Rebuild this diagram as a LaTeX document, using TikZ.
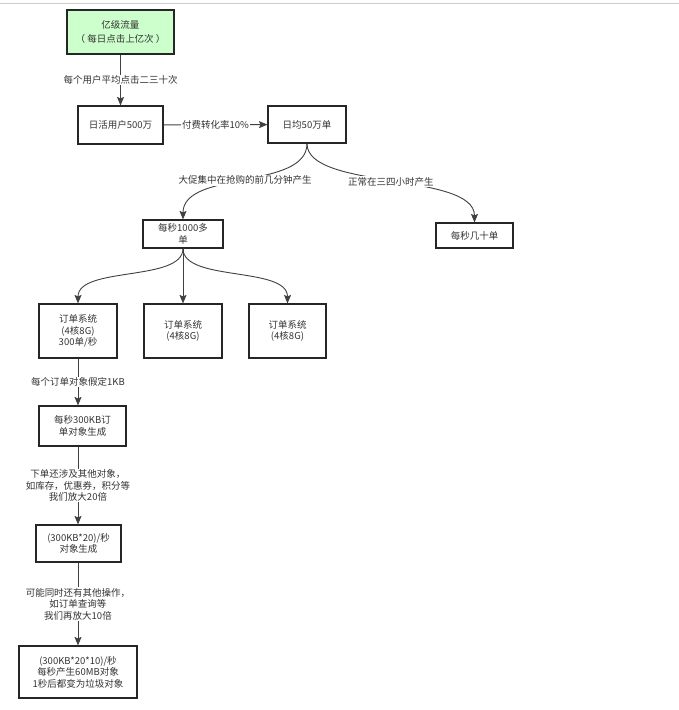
\documentclass[tikz,border=0pt]{standalone}
\usepackage{fontspec}
\setmainfont{Noto Sans CJK SC}
\usetikzlibrary{arrows.meta}
\definecolor{txt}{HTML}{333333}
\definecolor{lgreen}{HTML}{CCFFCC}
\begin{document}
\begin{tikzpicture}[x=1pt,y=-1pt,
  box/.style={draw=black!85, line width=1.1pt, fill=white, align=center, text=txt,
    font=\fontsize{9.5}{11.5}\selectfont, inner sep=0pt},
  lbl/.style={fill=white, text=txt, align=center, inner sep=1pt,
    font=\fontsize{9.5}{11.5}\selectfont},
  conn/.style={draw=black!75, line width=0.9pt,
    -{Stealth[length=8.5pt,width=7pt,inset=1.5pt]}}]
\useasboundingbox (0,0) rectangle (679,710);
\draw[black!20, line width=0.8pt] (0,3) -- (679,3);

\node[box, fill=lgreen, minimum width=107pt, minimum height=44pt] (top) at (120.5,32) {亿级流量\\[3pt]（ 每日点击上亿次 ）};
\node[box, minimum width=85pt, minimum height=38pt] (ri) at (120.5,125) {日活用户500万};
\node[box, minimum width=78pt, minimum height=37pt] (rj) at (307,124.5) {日均50万单};
\node[box, minimum width=80pt, minimum height=28pt] (mm) at (183,234) {每秒1000多\\单};
\node[box, minimum width=77pt, minimum height=25pt] (js) at (474.5,235.5) {每秒几十单};
\node[box, minimum width=78pt, minimum height=54pt] (o1) at (78,331) {订单系统\\(4核8G)\\300单/秒};
\node[box, minimum width=78pt, minimum height=54pt] (o2) at (183,331) {订单系统\\(4核8G)};
\node[box, minimum width=77pt, minimum height=54pt] (o3) at (287.5,331) {订单系统\\(4核8G)};
\node[box, minimum width=87pt, minimum height=40pt] (k1) at (82.5,426) {每秒300KB订\\单对象生成};
\node[box, minimum width=85pt, minimum height=37pt] (k2) at (78.5,543.5) {(300KB*20)/秒\\对象生成};
\node[box, minimum width=118pt, minimum height=52pt] (k3) at (78,672) {(300KB*20*10)/秒\\每秒产生60MB对象\\1秒后都变为垃圾对象};

\draw[conn] (top) -- node[lbl]{每个用户平均点击二三十次} (ri);
\draw[conn] (ri) -- node[lbl]{付费转化率10\%} (rj);
\draw[conn] (rj.south) .. controls (307,190) and (183,170) .. node[lbl]{大促集中在抢购的前几分钟产生} (mm.north);
\draw[conn] (rj.south) .. controls (307,190) and (474.5,172) .. node[lbl]{正常在三四小时产生} (js.north);
\draw[conn] (mm.south) .. controls (183,282) and (78,266) .. (o1.north);
\draw[conn] (mm.south) -- (o2.north);
\draw[conn] (mm.south) .. controls (183,282) and (287.5,266) .. (o3.north);
\draw[conn] (o1.south) -- node[lbl]{每个订单对象假定1KB} (o1.south |- k1.north);
\draw[conn] (o1.south |- k1.south) -- node[lbl]{下单还涉及其他对象，\\如库存，优惠券，积分等\\我们放大20倍} (o1.south |- k2.north);
\draw[conn] (o1.south |- k2.south) -- node[lbl]{可能同时还有其他操作，\\如订单查询等\\我们再放大10倍} (o1.south |- k3.north);
\end{tikzpicture}
\end{document}
